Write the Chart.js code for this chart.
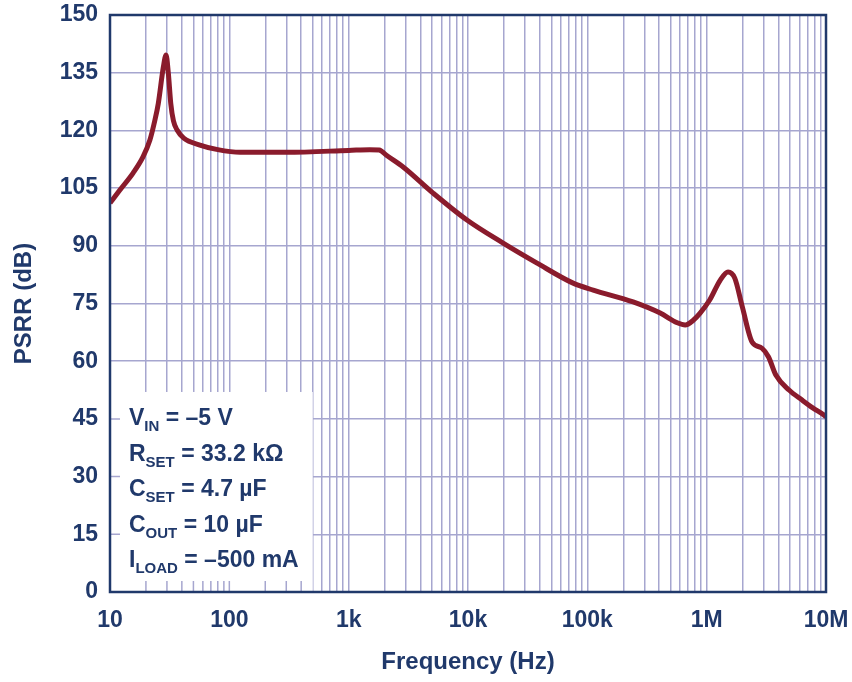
<!DOCTYPE html>
<html>
<head>
<meta charset="utf-8">
<script src="https://cdn.jsdelivr.net/npm/chart.js@4/dist/chart.umd.min.js"></script>
<style>
  html, body { margin: 0; padding: 0; background: #ffffff; }
  #wrap { width: 852px; height: 682px; position: relative; }
</style>
</head>
<body>
<div id="wrap"><canvas id="c" width="852" height="682"></canvas></div>
<script>
// ---- Data ----
const frequencyHz = [10, 12.1, 15.6, 18.9, 21.6, 23.8, 25.4, 28.0, 29.5, 30.8, 32.3, 34.0, 36.5, 41.5, 56.7, 80, 123, 300, 1000, 1500, 1800,
  2100, 2860, 5100, 9800, 19700, 37900, 76000, 112000, 242000, 408000, 566000, 661000, 776000, 881000,
  1060000, 1300000, 1510000, 1720000, 1990000, 2400000, 2900000, 3300000, 3800000, 4900000, 6300000, 7800000, 9600000, 10000000];
const psrrDb = [101.1, 104.5, 108.9, 113.1, 117.5, 122.7, 127.0, 136.5, 139.6, 135.0, 127.0, 122.5, 120.1, 118.0, 116.2, 115.0, 114.3, 114.3, 114.8, 115.0, 114.9,
  113.4, 110.5, 103.7, 96.7, 90.7, 85.5, 80.3, 78.5, 75.4, 72.5, 70.0, 69.4, 70.7, 72.5,
  75.9, 81.1, 83.2, 81.6, 74.1, 65.0, 63.4, 61.1, 56.4, 52.5, 49.9, 47.8, 46.0, 45.5];

const xDecades = [10, 100, 1000, 10000, 100000, 1000000, 10000000];
const xTickLabels = ['10', '100', '1k', '10k', '100k', '1M', '10M'];
const yTicks = [0, 15, 30, 45, 60, 75, 90, 105, 120, 135, 150];

const xTitle = 'Frequency (Hz)';
const yTitle = 'PSRR (dB)';

// conditions box text: [main, subscript, rest]
const conditionLines = [
  ['V', 'IN', ' = –5 V'],
  ['R', 'SET', ' = 33.2 kΩ'],
  ['C', 'SET', ' = 4.7 µF'],
  ['C', 'OUT', ' = 10 µF'],
  ['I', 'LOAD', ' = –500 mA']
];
// extent of the conditions box in data units
const boxMaxHz = 500;
const boxMaxDb = 52;

// ---- Styles ----
const NAVY = '#20396b';
const GRID = '#a6a6cf';
const LINE = '#8a1b2c';
const FONT = '"Liberation Sans", Arial, Helvetica, sans-serif';

// all minor tick positions for the log axis
const xGridValues = [];
for (let d = 0; d < xDecades.length - 1; d++) {
  for (let m = 1; m <= 9; m++) xGridValues.push(xDecades[d] * m);
}
xGridValues.push(xDecades[xDecades.length - 1]);

const boxPlugin = {
  id: 'condBox',
  beforeDatasetsDraw(chart) {
    const { ctx, chartArea } = chart;
    const xs = chart.scales.x, ys = chart.scales.y;
    const right = xs.getPixelForValue(boxMaxHz);
    const top = ys.getPixelForValue(boxMaxDb);
    ctx.save();
    ctx.fillStyle = '#ffffff';
    ctx.fillRect(chartArea.left, top, right - chartArea.left, chartArea.bottom - top);
    // inward tick marks along the covered edges
    ctx.strokeStyle = GRID;
    ctx.lineWidth = 1.5;
    ctx.beginPath();
    xGridValues.forEach(v => {
      const px = xs.getPixelForValue(v);
      if (px > chartArea.left + 1 && px < right) {
        ctx.moveTo(px, chartArea.bottom);
        ctx.lineTo(px, chartArea.bottom - 11);
      }
    });
    yTicks.forEach(v => {
      const py = ys.getPixelForValue(v);
      if (py > top && py < chartArea.bottom - 1) {
        ctx.moveTo(chartArea.left, py);
        ctx.lineTo(chartArea.left + 10, py);
      }
    });
    ctx.stroke();
    // text
    ctx.fillStyle = NAVY;
    ctx.textBaseline = 'alphabetic';
    const x0 = chartArea.left + 19;
    const step = 35.5;
    const firstBase = chartArea.bottom - 25 - step * (conditionLines.length - 1);
    conditionLines.forEach((ln, i) => {
      const by = firstBase + i * step;
      let x = x0;
      ctx.font = 'bold 23px ' + FONT;
      ctx.fillText(ln[0], x, by);
      x += ctx.measureText(ln[0]).width;
      ctx.font = 'bold 15px ' + FONT;
      ctx.fillText(ln[1], x, by + 6);
      x += ctx.measureText(ln[1]).width;
      ctx.font = 'bold 23px ' + FONT;
      ctx.fillText(ln[2], x, by);
    });
    ctx.restore();
  },
  afterDatasetsDraw(chart) {
    const { ctx, chartArea } = chart;
    ctx.save();
    ctx.strokeStyle = NAVY;
    ctx.lineWidth = 2.5;
    ctx.strokeRect(chartArea.left, chartArea.top, chartArea.right - chartArea.left, chartArea.bottom - chartArea.top);
    ctx.restore();
  }
};

const noPad = s => { s.paddingTop = 0; s.paddingBottom = 0; s.paddingLeft = 0; s.paddingRight = 0; };

new Chart(document.getElementById('c'), {
  type: 'line',
  data: {
    datasets: [{
      data: frequencyHz.map((f, i) => ({ x: f, y: psrrDb[i] })),
      borderColor: LINE,
      borderWidth: 5,
      pointRadius: 0,
      fill: false,
      cubicInterpolationMode: 'monotone'
    }]
  },
  options: {
    responsive: false,
    animation: false,
    devicePixelRatio: 1,
    layout: { padding: { left: 0, right: 26, top: 15, bottom: 0 } },
    plugins: { legend: { display: false }, tooltip: { enabled: false } },
    scales: {
      x: {
        type: 'logarithmic',
        min: 10, max: 10000000,
        afterFit: s => { s.height = 90; noPad(s); },
        afterBuildTicks: s => { s.ticks = xGridValues.map(v => ({ value: v })); },
        border: { display: false },
        grid: { color: GRID, lineWidth: 1.5, drawTicks: false },
        ticks: {
          autoSkip: false, maxRotation: 0, padding: 15,
          color: NAVY, font: { family: FONT, size: 23, weight: 'bold' },
          callback: v => { const i = xDecades.indexOf(v); return i >= 0 ? xTickLabels[i] : ''; }
        },
        title: { display: true, text: xTitle, color: NAVY, font: { family: FONT, size: 24, weight: 'bold' }, padding: { top: 0, bottom: 5 } }
      },
      y: {
        min: 0, max: 150,
        afterFit: s => { s.width = 110; noPad(s); },
        afterBuildTicks: s => { s.ticks = yTicks.map(v => ({ value: v })); },
        border: { display: false },
        grid: { color: GRID, lineWidth: 1.5, drawTicks: false },
        ticks: { padding: 12, color: NAVY, font: { family: FONT, size: 23, weight: 'bold' } },
        title: { display: true, text: yTitle, color: NAVY, font: { family: FONT, size: 24, weight: 'bold' }, padding: { top: 10, bottom: 0 } }
      }
    }
  },
  plugins: [boxPlugin]
});
</script>
</body>
</html>
